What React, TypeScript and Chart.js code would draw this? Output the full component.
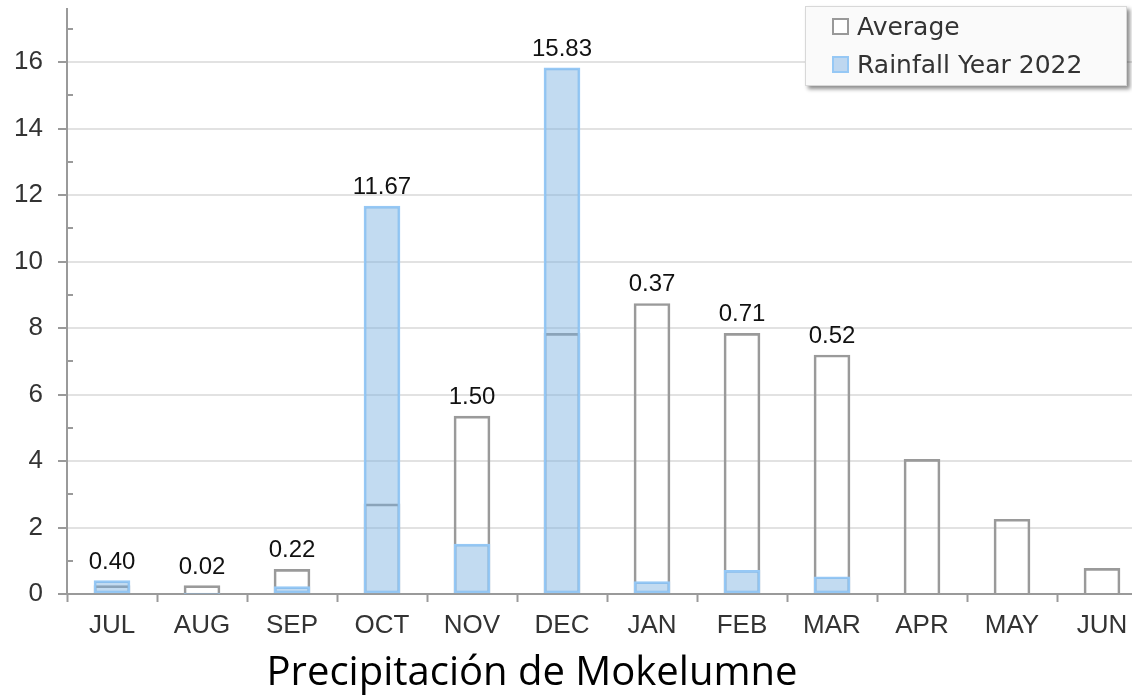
import React, { useEffect, useRef } from "react";
import { Chart, registerables } from "chart.js";

Chart.register(...registerables);

const months = ["JUL", "AUG", "SEP", "OCT", "NOV", "DEC", "JAN", "FEB", "MAR", "APR", "MAY", "JUN"];
const averageValues = [0.25, 0.25, 0.74, 2.71, 5.35, 7.84, 8.74, 7.84, 7.19, 4.05, 2.25, 0.77];
const rainfall2022 = [0.4, 0.02, 0.22, 11.67, 1.5, 15.83, 0.37, 0.71, 0.52, null, null, null];
const yTickLabels = [0, 2, 4, 6, 8, 10, 12, 14, 16];
const yMin = 0;
const yMax = 17.6;
const titleText = "Precipitación de Mokelumne";
const legendLabels = ["Average", "Rainfall Year 2022"];

const AXIS = "#9a9a9a";
const GRID = "#e2e2e2";
const TEXT = "#333333";
const RAIN_FILL = "rgba(120,175,225,0.45)";
const RAIN_BORDER = "rgba(150,200,245,1)";

const minorTicks = {
  id: "minorTicks",
  afterDraw(chart: any) {
    const y = chart.scales.y;
    const ctx = chart.ctx;
    ctx.save();
    ctx.strokeStyle = AXIS;
    ctx.lineWidth = 2;
    for (let v = 1; v < yMax; v += 2) {
      const py = Math.round(y.getPixelForValue(v));
      ctx.beginPath();
      ctx.moveTo(y.right, py);
      ctx.lineTo(y.right + 6, py);
      ctx.stroke();
    }
    ctx.restore();
  },
};

const valueLabels = {
  id: "valueLabels",
  afterDatasetsDraw(chart: any) {
    const x = chart.scales.x;
    const y = chart.scales.y;
    const ctx = chart.ctx;
    ctx.save();
    ctx.font = "24px 'Liberation Sans', Arial, sans-serif";
    ctx.fillStyle = "#111";
    ctx.textAlign = "center";
    ctx.textBaseline = "alphabetic";
    rainfall2022.forEach((r, i) => {
      if (r === null) return;
      const top = Math.min(y.getPixelForValue(averageValues[i]), y.getPixelForValue(r));
      ctx.fillText(r.toFixed(2), x.getPixelForValue(i), top - 12);
    });
    ctx.restore();
  },
};

export default function App() {
  const ref = useRef<HTMLCanvasElement | null>(null);

  useEffect(() => {
    if (!ref.current) return;
    const chart = new Chart(ref.current, {
      type: "bar",
      data: {
        labels: months,
        datasets: [
          {
            label: legendLabels[1],
            data: rainfall2022 as any,
            backgroundColor: RAIN_FILL,
            borderColor: RAIN_BORDER,
            borderWidth: 2,
            borderSkipped: false,
            barThickness: 36,
            grouped: false,
          } as any,
          {
            label: legendLabels[0],
            data: averageValues,
            backgroundColor: "rgba(255,255,255,0)",
            borderColor: AXIS,
            borderWidth: 2,
            borderSkipped: "start",
            barThickness: 36,
            grouped: false,
          } as any,
        ],
      },
      options: {
        animation: false,
        responsive: false,
        maintainAspectRatio: false,
        layout: { padding: { top: 9, right: 3, left: 0, bottom: 0 } },
        plugins: {
          legend: { display: false },
          title: { display: false },
          tooltip: { enabled: false },
        },
        scales: {
          x: {
            offset: true,
            grid: {
              offset: true,
              drawOnChartArea: false,
              drawTicks: true,
              tickLength: 8,
              tickColor: AXIS,
              tickWidth: 2,
            },
            border: { color: AXIS, width: 2 },
            ticks: {
              color: TEXT,
              font: { family: "'Liberation Sans', Arial, sans-serif", size: 26 },
              padding: 8,
              maxRotation: 0,
              autoSkip: false,
            },
            afterFit(scale: any) {
              scale.height = 102;
              scale.paddingLeft = 0;
              scale.paddingRight = 0;
            },
          },
          y: {
            min: yMin,
            max: yMax,
            grid: {
              color: (c: any) => (yTickLabels.includes(c.tick?.value) ? GRID : "rgba(0,0,0,0)"),
              lineWidth: 2,
              tickLength: 9,
              tickColor: (c: any) => (yTickLabels.includes(c.tick?.value) ? AXIS : "rgba(0,0,0,0)"),
              tickWidth: 2,
            },
            border: { color: AXIS, width: 2 },
            ticks: {
              stepSize: 1,
              includeBounds: false,
              color: TEXT,
              font: { family: "'Liberation Sans', Arial, sans-serif", size: 26 },
              padding: 15,
              callback: (v: any) => (yTickLabels.includes(Number(v)) ? String(v) : ""),
            },
            afterFit(scale: any) {
              scale.width = 67;
              scale.paddingTop = 0;
              scale.paddingBottom = 0;
            },
          },
        },
      },
      plugins: [minorTicks, valueLabels],
    });
    return () => chart.destroy();
  }, []);

  const box: React.CSSProperties = {
    display: "inline-block",
    width: 13,
    height: 13,
    marginRight: 8,
    verticalAlign: "middle",
    position: "relative",
    top: -2,
  };

  return (
    <div
      style={{
        position: "fixed",
        left: 0,
        top: 0,
        width: 1132,
        height: 696,
        overflow: "hidden",
        background: "#fff",
      }}
    >
      <canvas ref={ref} width={1150} height={696} style={{ position: "absolute", left: 0, top: 0 }} />
      <div
        style={{
          position: "absolute",
          left: 805,
          top: 6,
          width: 322,
          height: 80,
          background: "#fafafa",
          border: "1px solid #d8d8d8",
          boxShadow: "3px 3px 4px rgba(0,0,0,0.45)",
          boxSizing: "border-box",
          fontFamily: "'DejaVu Sans', Verdana, sans-serif",
          fontSize: 25,
          color: TEXT,
          lineHeight: "38px",
          paddingLeft: 26,
          paddingTop: 1,
          whiteSpace: "nowrap",
        }}
      >
        <div>
          <span style={{ ...box, border: "2px solid #999", background: "#fff" }} />
          {legendLabels[0]}
        </div>
        <div>
          <span style={{ ...box, border: "2px solid " + RAIN_BORDER, background: "rgb(190,215,240)" }} />
          {legendLabels[1]}
        </div>
      </div>
      <div
        style={{
          position: "absolute",
          left: 0,
          width: 1064,
          top: 644,
          textAlign: "center",
          fontFamily: "'Open Sans', sans-serif",
          fontSize: 40,
          color: "#000",
          lineHeight: "52px",
          whiteSpace: "nowrap",
        }}
      >
        {titleText}
      </div>
    </div>
  );
}
